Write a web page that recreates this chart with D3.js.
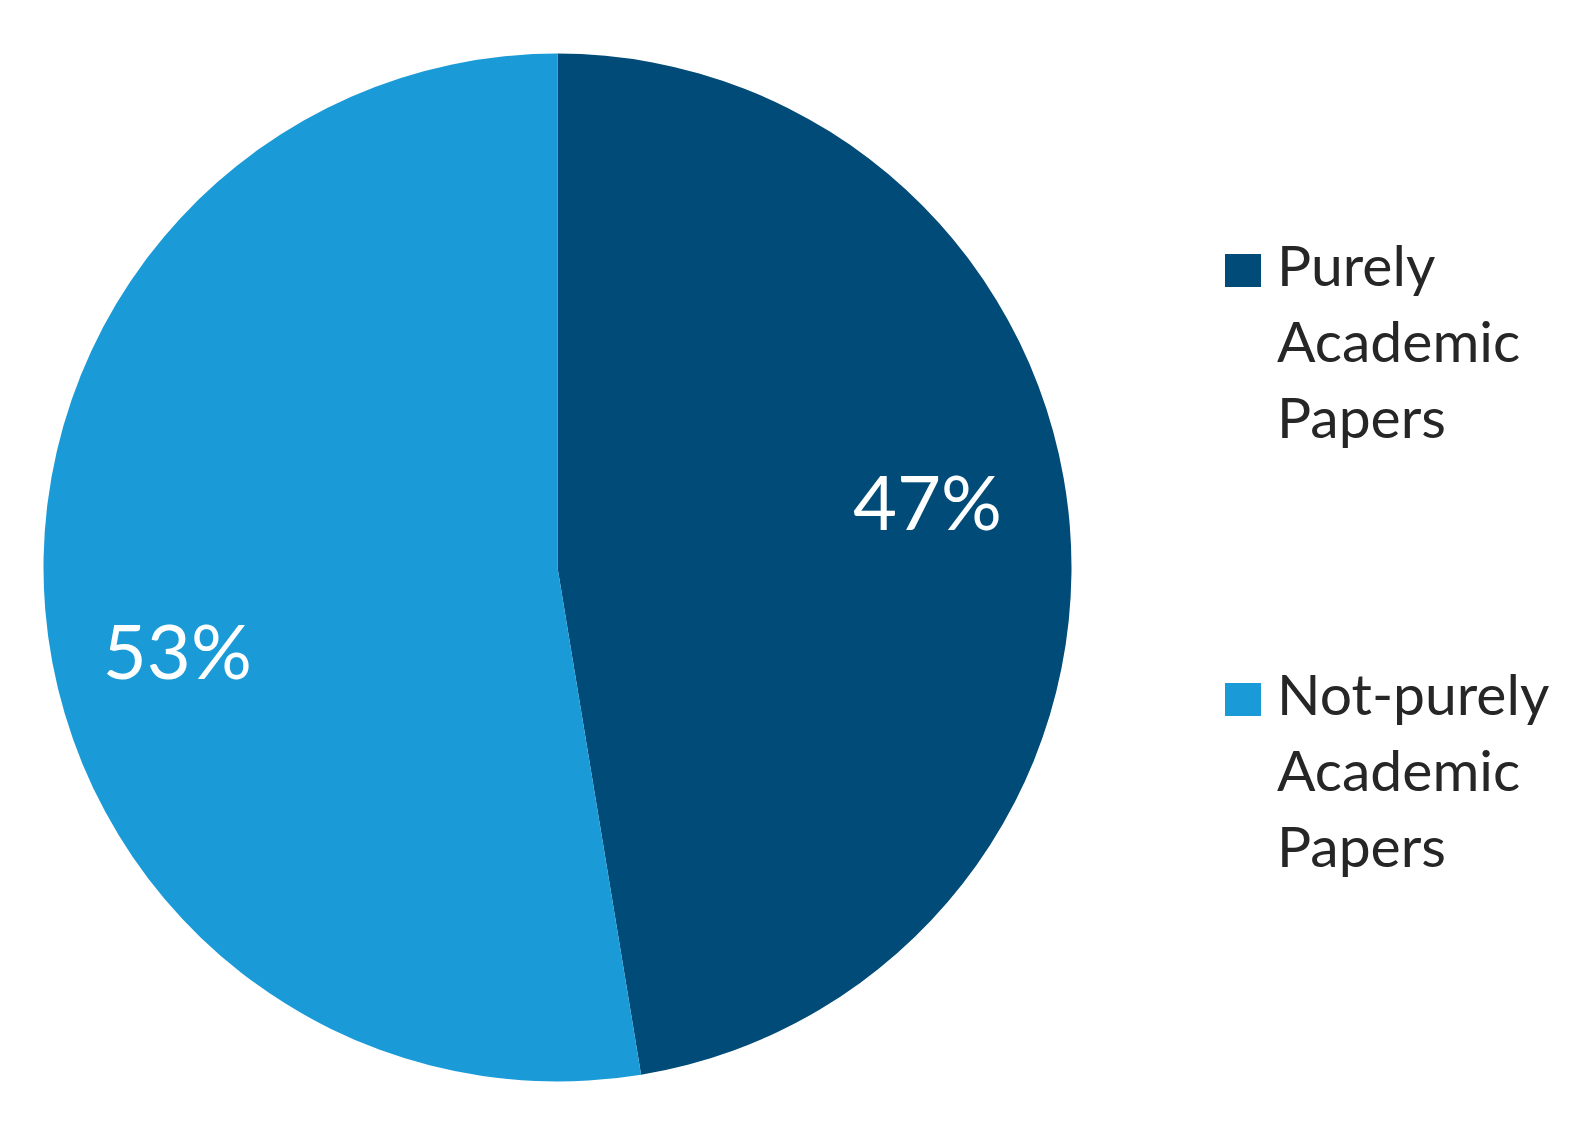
<!DOCTYPE html>
<html><head><meta charset="utf-8">
<script src="https://cdn.jsdelivr.net/npm/d3@7"></script>
<style>body{margin:0;background:#fff;}svg{display:block;}</style>
</head><body>
<script>
const categories = ["Purely Academic Papers", "Not-purely Academic Papers"];
const legendLines = [["Purely", "Academic", "Papers"], ["Not-purely", "Academic", "Papers"]];
const values = [47.4, 52.6];
const colors = ["#004B78", "#1A9BD7"];

const W = 1581, H = 1128;
const cx = 557.5, cy = 567.5, R = 514;
const svg = d3.select("body").append("svg").attr("width", W).attr("height", H);
const font = "Lato, 'Open Sans', sans-serif";

const pie = d3.pie().sort(null).value(d => d);
const arcs = pie(values);
const arc = d3.arc().innerRadius(0).outerRadius(R);
const g = svg.append("g").attr("transform", `translate(${cx},${cy})`);
g.selectAll("path").data(arcs).join("path")
  .attr("d", arc).attr("fill", (d, i) => colors[i]);

// label placement: radius and angular nudge (style), based on slice angles
const labelR = [376, 389];
const labelNudge = [-5.6, -7.5].map(a => a * Math.PI / 180);
g.selectAll("text").data(arcs).join("text")
  .attr("transform", (d, i) => {
    const a = (d.startAngle + d.endAngle) / 2 + labelNudge[i];
    return `translate(${labelR[i] * Math.sin(a)},${-labelR[i] * Math.cos(a)})`;
  })
  .attr("text-anchor", "middle").attr("dominant-baseline", "central")
  .attr("fill", "#fff").attr("font-family", font).attr("font-size", 76)
  .text(d => Math.round(d.data) + "%");

const leg = svg.append("g");
const legBase = [286, 715];
const lineStep = 76;
categories.forEach((c, i) => {
  leg.append("rect").attr("x", 1225).attr("y", legBase[i] - 32).attr("width", 36).attr("height", 33).attr("fill", colors[i]);
  legendLines[i].forEach((t, j) => {
    leg.append("text").attr("x", 1277).attr("y", legBase[i] + j * lineStep)
      .attr("font-family", font).attr("font-size", 57).attr("fill", "#262626").text(t);
  });
});
</script>
</body></html>
